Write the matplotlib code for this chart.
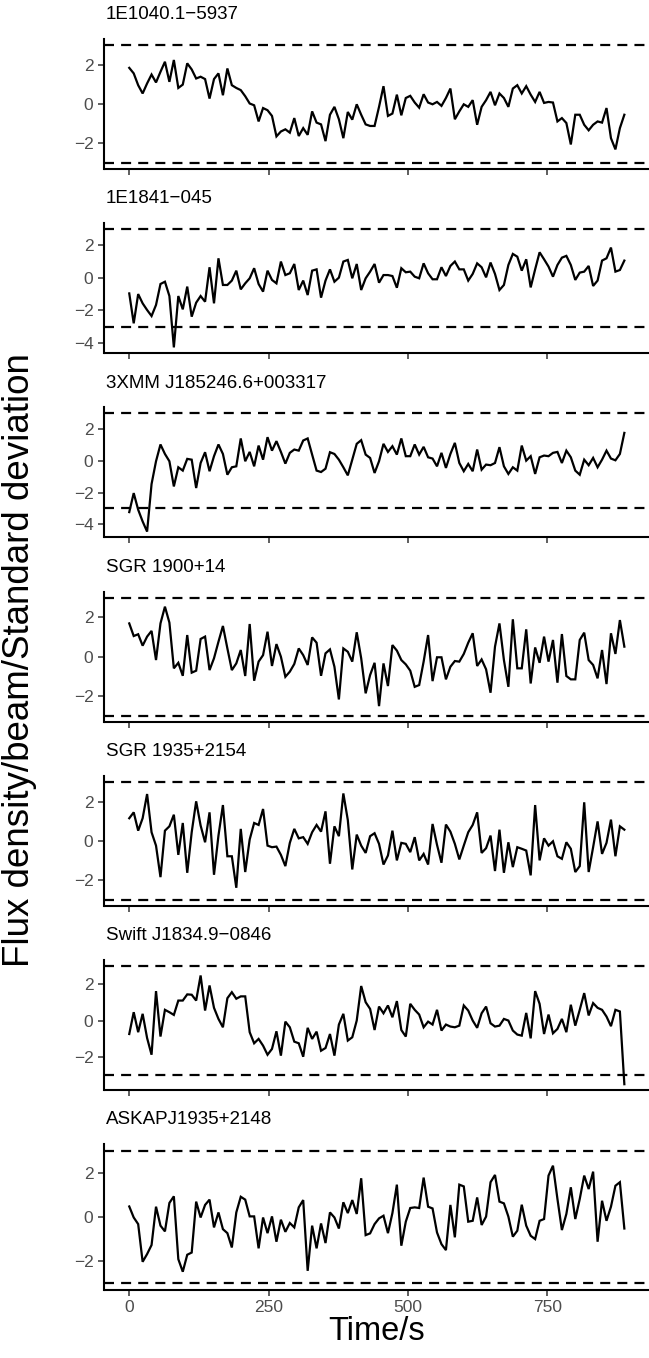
import matplotlib
matplotlib.use("Agg")
import matplotlib.pyplot as plt
import numpy as np
from matplotlib.ticker import MultipleLocator

plt.rcParams['font.family'] = ['Liberation Sans', 'DejaVu Sans']

step = 8  # seconds between samples

names = ['1E1040.1\u22125937', '1E1841\u2212045', '3XMM J185246.6+003317',
         'SGR 1900+14', 'SGR 1935+2154', 'Swift J1834.9\u22120846',
         'ASKAPJ1935+2148']

s_1e1040 = [1.84, 1.56, 0.96, 0.54, 1.05, 1.50, 1.10, 1.64, 2.15, 1.13,
            2.24, 0.82, 0.99, 2.07, 1.76, 1.30, 1.39, 1.27, 0.28, 1.27,
            1.56, 0.45, 1.81, 0.96, 0.82, 0.71, 0.40, 0.03, -0.06, -0.88,
            -0.20, -0.31, -0.60, -1.64, -1.39, -1.28, -1.45, -0.71, -1.62, -1.22,
            -1.56, -0.37, -0.94, -1.03, -1.88, -0.54, -0.14, -0.77, -1.73, -0.40,
            -0.79, -0.01, -0.54, -1.03, -1.11, -1.11, -0.14, 0.91, -0.60, -0.48,
            0.48, -0.57, 0.31, 0.42, 0.08, -0.18, 0.50, 0.08, -0.01, 0.11,
            -0.09, 0.31, 0.79, -0.77, -0.37, -0.01, -0.14, 0.20, -1.05, -0.14,
            0.20, 0.62, -0.06, 0.54, 0.31, -0.14, 0.79, 0.96, 0.54, 0.91,
            0.48, 0.11, 0.62, 0.06, 0.11, 0.08, -0.88, -0.71, -0.96, -2.05,
            -0.54, -0.54, -1.05, -1.33, -1.05, -0.88, -0.94, -0.20, -1.73, -2.30,
            -1.22, -0.54]

s_1e1841 = [-0.95, -2.79, -0.99, -1.56, -1.97, -2.34, -1.66, -0.37, -0.23, -1.11,
            -4.27, -1.11, -1.93, -0.53, -2.38, -1.52, -1.11, -1.46, 0.66, -1.56,
            1.21, -0.43, -0.43, -0.16, 0.45, -0.70, -0.33, -0.02, 0.60, -0.37,
            -0.84, 0.45, -0.12, -0.33, 1.01, 0.18, 0.29, 0.86, -0.74, -0.16,
            -1.05, 0.45, 0.53, -1.21, -0.16, 0.53, -0.23, 0.02, 1.01, 1.11,
            -0.02, 0.86, -0.74, -0.02, 0.39, 0.86, -0.29, 0.18, 0.18, 0.12,
            -0.60, 0.60, 0.35, 0.39, 0.08, -0.02, 0.90, 0.29, -0.08, -0.08,
            0.66, 0.12, 0.74, 1.01, 0.53, 0.53, -0.16, 0.25, 0.90, 0.66,
            0.04, 0.95, 0.25, -0.74, -0.43, 0.80, 1.48, 1.31, 0.45, 1.15,
            -0.58, 0.53, 1.58, 1.15, 0.70, 0.08, 0.80, 1.25, 1.36, 0.80,
            -0.12, 0.33, 0.39, 0.74, -0.49, -0.16, 1.07, 1.21, 1.87, 0.39,
            0.49, 1.07]

s_3xmm = [-3.23, -2.03, -3.08, -3.82, -4.46, -1.46, -0.02, 1.04, 0.44, -0.02,
          -1.61, -0.40, -0.61, 0.13, 0.08, -1.71, -0.13, 0.55, -0.65, 0.30,
          1.04, 0.44, -0.87, -0.40, -0.34, 1.42, -0.02, 0.57, -0.34, 0.97,
          0.08, 1.50, 0.65, 1.25, 0.57, -0.17, 0.51, 0.72, 0.65, 1.29,
          1.42, 0.40, -0.61, -0.70, -0.49, 0.55, 0.44, 0.08, -0.40, -0.91,
          0.08, 1.08, 1.31, 0.40, 0.19, -0.76, -0.02, 1.08, 0.57, 0.93,
          0.40, 1.42, 0.30, 0.30, 1.04, 0.40, 0.89, 0.23, 0.15, -0.34,
          0.51, -0.44, 0.44, 1.14, -0.13, -0.65, -0.19, -0.65, 0.72, -0.55,
          -0.23, -0.27, -0.13, 0.87, -0.34, -0.82, -0.40, -0.61, 0.97, 0.02,
          0.30, -0.82, 0.23, 0.34, 0.30, 0.51, 0.57, -0.13, 0.65, 0.23,
          -0.61, -0.87, 0.08, -0.27, 0.19, -0.40, 0.08, 0.65, 0.15, 0.04,
          0.44, 1.77]

s_sgr1900 = [1.69, 1.05, 1.14, 0.56, 1.02, 1.31, -0.17, 1.69, 2.54, 1.73,
             -0.59, -0.31, -0.97, 1.10, -0.81, -0.71, 0.90, 1.02, -0.68, -0.08,
             0.76, 1.56, 0.42, -0.68, -0.34, 0.34, -0.98, 1.66, -1.22, -0.25,
             0.08, 1.27, -0.47, 0.64, 0.00, -1.02, -0.76, -0.37, 0.42, 0.08,
             -0.42, 0.98, 0.71, -0.97, 0.17, 0.37, -0.51, -2.17, 0.42, 0.25,
             -0.25, 1.24, -0.08, -1.86, -0.93, -0.31, -2.51, -0.34, -1.49, 0.59,
             0.31, -0.17, -0.39, -0.71, -1.53, -1.44, -0.25, 1.10, -1.24, -0.03,
             -0.03, -1.15, -0.51, -0.22, -0.25, 0.14, 0.71, 1.19, -0.47, -0.14,
             -0.64, -1.83, 0.51, 1.69, -0.17, -1.53, 1.90, -0.59, -0.59, 1.39,
             -1.36, 0.47, -0.31, 1.02, -0.25, 0.85, -1.32, 1.15, -0.98, -1.15,
             -1.15, 0.85, 1.22, -0.17, -0.42, -1.10, 0.34, -1.39, 1.19, 0.14,
             1.86, 0.51]

s_sgr1935 = [1.15, 1.45, 0.52, 1.15, 2.38, 0.44, -0.24, -1.84, 0.52, 0.74,
             1.33, -0.71, 0.91, -1.62, 0.44, 2.01, 0.78, -0.07, 1.45, -1.72,
             0.27, 1.82, -0.78, -0.78, -2.38, 0.61, -1.58, 0.07, 0.91, 0.81,
             1.62, -0.24, -0.32, -0.29, -0.71, -1.28, -0.10, 0.61, 0.13, 0.19,
             -0.15, 0.44, 0.81, 0.47, 1.50, -1.16, 0.74, 0.24, 2.41, 1.06,
             -1.45, 0.32, -0.24, -0.61, 0.24, 0.39, -0.15, -1.20, -0.74, 0.52,
             -0.99, -0.10, -0.15, -0.57, 0.19, -0.99, -0.66, -1.20, 0.86, -0.20,
             -1.11, 0.83, 0.47, -0.15, -0.94, -0.24, 0.44, 0.81, 1.45, -0.61,
             -0.37, 0.27, -1.53, 0.57, -1.62, -0.07, -1.33, -0.32, -0.40, -0.49,
             -1.75, 1.82, -0.99, 0.13, -0.24, -0.02, -0.78, -0.91, -0.07, -0.40,
             -1.58, -1.28, 1.96, -1.58, -0.32, 0.99, -0.66, -0.10, 1.08, -0.78,
             0.74, 0.57]

s_swift = [-0.74, 0.46, -0.64, 0.37, -0.96, -1.88, 1.62, -0.88, 0.59, 0.46,
           0.31, 1.10, 1.10, 1.44, 1.42, 1.10, 2.48, 0.55, 1.93, 0.70,
           0.09, -0.37, 1.23, 1.56, 1.20, 1.33, 1.33, -0.64, -1.25, -1.01,
           -1.38, -1.88, -1.56, -0.59, -1.93, -0.06, -0.37, -1.16, -1.25, -1.99,
           -0.40, -1.01, -0.61, -1.66, -1.51, -0.74, -1.93, -0.22, 0.37, -1.10,
           -0.92, 0.00, 1.90, 1.01, 0.64, -0.52, 0.77, 0.40, 0.83, 0.18,
           1.07, -0.52, -0.88, 0.92, 0.59, 0.33, -0.37, -0.06, -0.22, 0.59,
           -0.55, -0.22, -0.33, -0.37, -0.28, 0.83, 0.55, 0.00, -0.40, 0.40,
           0.77, -0.15, -0.33, -0.28, 0.09, 0.00, -0.55, -0.77, -0.83, 0.42,
           -0.98, 1.62, 0.92, -0.74, 0.33, -0.70, -0.46, 0.09, -0.64, 0.87,
           -0.28, 0.59, 1.51, 0.28, 0.96, 0.70, 0.59, 0.22, -0.31, 0.59,
           0.50, -3.50]

s_askap = [0.48, -0.02, -0.32, -2.03, -1.68, -1.27, 0.47, -0.39, -0.65, 0.64,
           0.94, -1.91, -2.48, -1.71, -1.61, 0.70, -0.02, 0.55, 0.79, -0.47,
           0.21, -0.55, -0.73, -1.38, 0.21, 0.92, 0.79, 0.03, 0.03, -1.42,
           -0.02, -0.73, 0.03, -1.12, -0.12, -0.67, -0.27, -0.47, 0.44, 0.77,
           -2.44, -0.39, -1.42, -0.29, -1.18, 0.21, -0.02, -0.52, 0.67, 0.18,
           0.77, 0.14, 1.76, -0.82, -0.74, -0.32, -0.06, 0.06, -0.73, 0.18,
           1.47, -1.30, -0.21, 0.41, 0.44, 0.41, 1.79, 0.47, 0.39, -0.70,
           -1.23, -1.50, 0.55, -0.92, 1.47, 1.39, -0.21, -0.17, 0.89, -0.36,
           0.02, 1.58, 1.91, 0.70, 0.62, 0.02, -0.89, -0.62, 0.56, -0.39,
           -0.85, -1.00, -0.17, -0.09, 1.88, 2.33, 0.82, -0.59, 0.14, 1.35,
           -0.09, 0.82, 1.88, 1.27, 2.06, -1.12, 0.74, -0.17, 0.47, 1.42,
           1.58, -0.52]

series = [s_1e1040, s_1e1841, s_3xmm, s_sgr1900, s_sgr1935, s_swift, s_askap]

W, H = 649, 1358
fig = plt.figure(figsize=(W / 100, H / 100), dpi=100, facecolor='white')

left_px, right_px = 104.5, 649.1
tops = [39.1 + i * 184.2 for i in range(7)]
heights = [130] * 6 + [145.5]

tmax = max((len(s) - 1) * step for s in series)
xpad = 0.05 * tmax

tick_col = '#333333'
lab_col = '#4D4D4D'

for i, (name, vals) in enumerate(zip(names, series)):
    top, h = tops[i], heights[i]
    ax = fig.add_axes([left_px / W, 1 - (top + h) / H,
                       (right_px - left_px) / W, h / H])
    y = np.array(vals)
    t = np.arange(len(y)) * step
    ax.plot(t, y, color='black', lw=1.6, solid_joinstyle='miter')
    for lvl in (3, -3):
        ax.axhline(lvl, color='black', lw=1.6, ls=(0, (4.5, 3.2)))

    lo = min(y.min(), -3)
    hi = max(y.max(), 3)
    pad = 0.05 * (hi - lo)
    ax.set_ylim(lo - pad, hi + pad)
    ax.set_xlim(-xpad, tmax + xpad)
    ax.yaxis.set_major_locator(MultipleLocator(2))
    ax.set_xticks([0, 250, 500, 750])

    for side in ('top', 'right'):
        ax.spines[side].set_visible(False)
    for side in ('left', 'bottom'):
        ax.spines[side].set_linewidth(1.5)
        ax.spines[side].set_color('black')
    ax.tick_params(axis='both', length=4, width=1.1, color=tick_col,
                   labelcolor=lab_col, labelsize=12.5, pad=4)
    if i < 6:
        ax.tick_params(axis='x', labelbottom=False)
    else:
        ax.tick_params(axis='x', pad=3.5)

    fig.text(106 / W, 1 - (top - 24.5) / H, name, ha='left', va='center',
             fontsize=13.5, color='black')

fig.text(20 / W, 1 - 660 / H, 'Flux density/beam/Standard deviation',
         rotation=90, ha='center', va='center', fontsize=26.5, color='black')
fig.text((left_px + right_px) / 2 / W, 1 - 1340 / H, 'Time/s',
         ha='center', va='baseline', fontsize=23.5, color='black')

fig.savefig('out.png', dpi=100, facecolor='white')
